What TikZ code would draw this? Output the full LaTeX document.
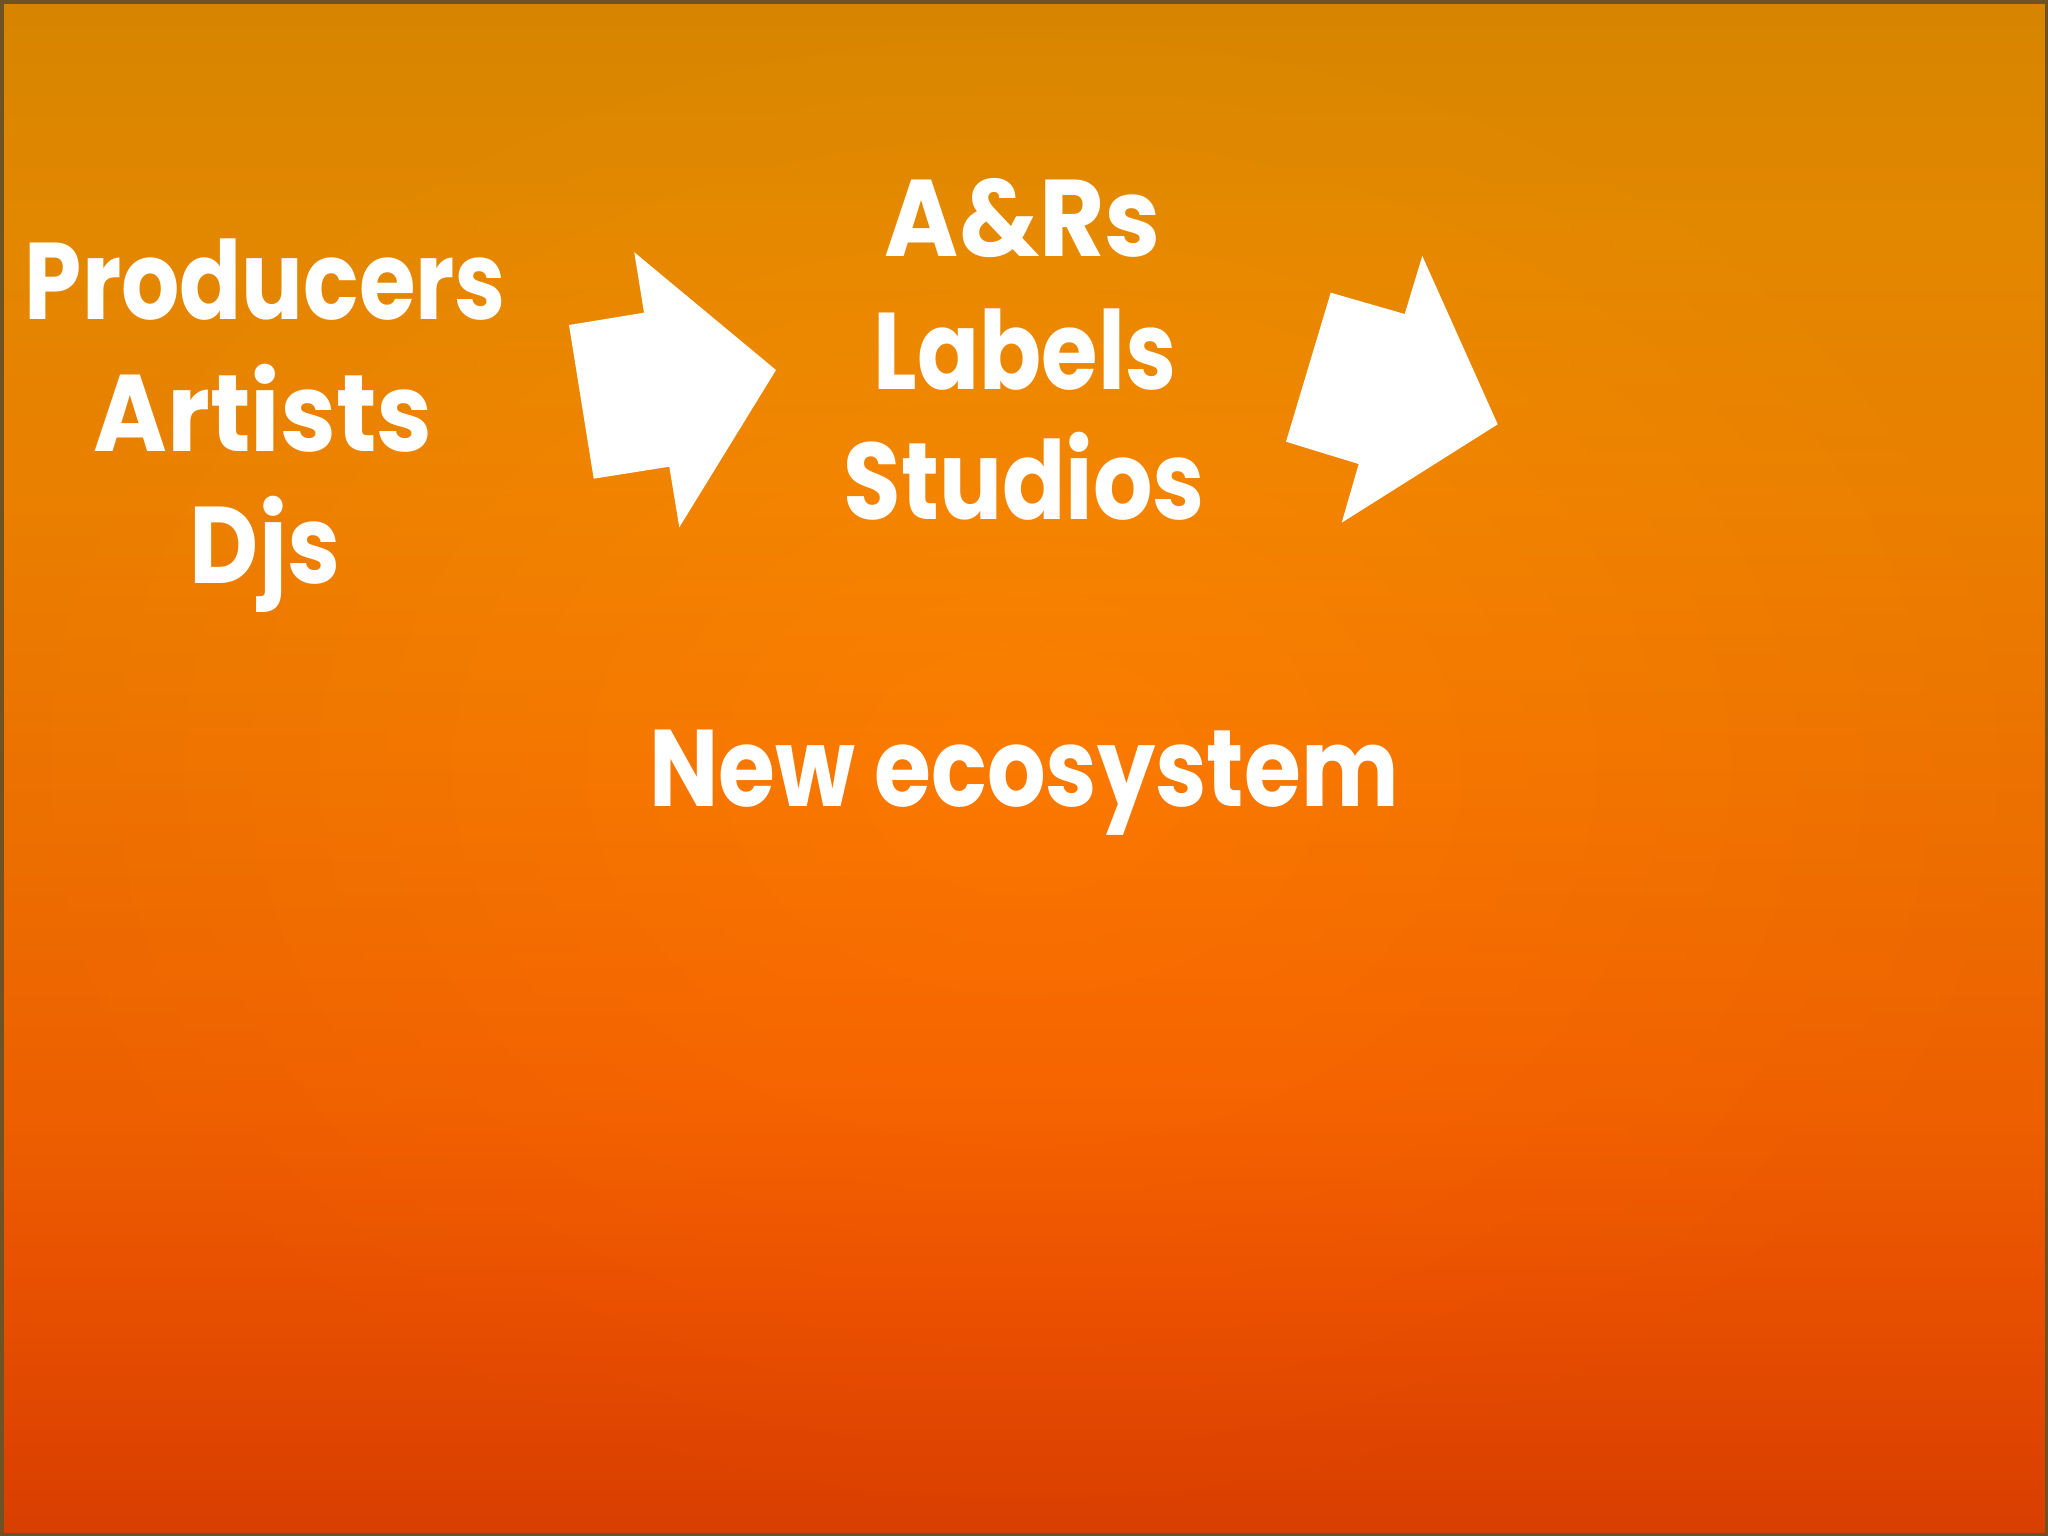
\documentclass[tikz,border=0pt]{standalone}
\usepackage{fontspec}
\setmainfont{Poppins}
\usetikzlibrary{fadings}
\definecolor{bgtop}{HTML}{E48E00}
\definecolor{bghigh}{HTML}{F29000}
\definecolor{bgupper}{HTML}{F98700}
\definecolor{bgmid}{HTML}{FB7800}
\definecolor{bgwarm}{HTML}{FC6600}
\definecolor{bglow}{HTML}{F65400}
\definecolor{bgbot}{HTML}{E64200}
\definecolor{rim}{HTML}{6E5224}
\pgfdeclareverticalshading{slidebg}{100bp}{color(0bp)=(bgbot); color(25bp)=(bgbot); color(32.5bp)=(bglow); color(39bp)=(bgwarm); color(49bp)=(bgmid); color(58.5bp)=(bgupper); color(67bp)=(bghigh); color(75bp)=(bgtop); color(100bp)=(bgtop)}
\tikzfading[name=vignette, inner color=transparent!100, outer color=transparent!94]
\newcommand{\fitline}[2]{\resizebox{#1cm}{\height}{#2}}

\begin{document}
\begin{tikzpicture}[x=0.01cm,y=-0.01cm]
\tikzstyle{every node}+=[inner sep=0pt, text=white, anchor=base, font=\fontsize{31}{36}\selectfont\bfseries]
\tikzstyle{bigarrow}=[fill=white, draw=none]
\useasboundingbox (0,0) rectangle (2048,1536);
\shade [shading=slidebg] (0,0) rectangle (2048,1536);
\fill [black, path fading=vignette] (0,0) rectangle (2048,1536);
\draw [rim, line width=2pt] (0,0) rectangle (2048,1536);

\node (producers) at (265.5,319) {\fitline{4.81}{Producers}};
\node (artists) at (263,451.5) {\fitline{3.39}{Artists}};
\node (djs) at (265,583) {\fitline{1.50}{Djs}};

\node (ars) at (1023,256.7) {\fitline{2.76}{A\&Rs}};
\node (labels) at (1025,389.3) {\fitline{3.02}{Labels}};
\node (studios) at (1024.5,519) {\fitline{3.61}{Studios}};

\node (ecosystem) at (1024,806) {\fitline{7.49}{New ecosystem}};

\fill [bigarrow] (569,325) -- (644,312.7) -- (634.3,252.3) -- (776,370) -- (679.3,527.3) -- (669.3,466.7) -- (593.7,478.7) -- cycle;
\fill [bigarrow] (1286,441.7) -- (1330.7,292.7) -- (1404.7,314) -- (1422.3,256) -- (1497.7,424.3) -- (1341.7,522.7) -- (1358.7,464) -- cycle;
\end{tikzpicture}
\end{document}
